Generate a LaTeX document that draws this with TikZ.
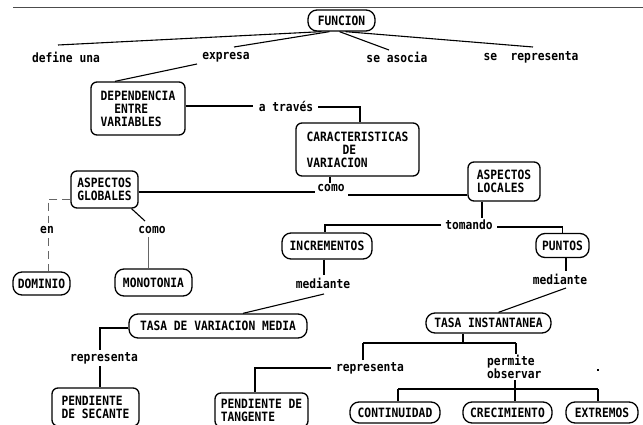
\documentclass[tikz,border=0pt]{standalone}
\usepackage{fontspec}
\newfontfamily\mapfont{DejaVu Sans Mono}[FakeStretch=0.88]
\tikzset{
  lbl/.style={font=\mapfont\bfseries\fontsize{12.8}{13}\selectfont, inner sep=0pt, text=black},
  pill/.style={lbl, draw, line width=1.3pt, rounded corners=9pt},
  rbox/.style={lbl, draw, line width=1.3pt, rounded corners=6pt, align=left},
  conn/.style={line width=1.1pt, black},
  thin conn/.style={line width=0.8pt, gray!80!black},
  dash conn/.style={line width=0.9pt, gray!80!black, dash pattern=on 8pt off 5pt},
}
\begin{document}
\begin{tikzpicture}[x=1pt,y=-1pt]
\useasboundingbox (0,0) rectangle (643,425);
\fill[white] (0,0) rectangle (643,425);
% top rule
\draw[gray!60!black, line width=0.8pt] (13,7) -- (643,7);

% concept nodes
\node[pill, minimum width=67pt, minimum height=21pt] (F) at (341.5,20.5) {FUNCION};
\node[rbox, minimum width=94pt, minimum height=53pt] (DEP) at (138,108.5) {DEPENDENCIA\\\phantom{XX}ENTRE\\VARIABLES};
\node[rbox, minimum width=123pt, minimum height=53pt] (CAR) at (357.5,149.5) {CARACTERISTICAS\\\hspace*{36pt}DE\\VARIACION};
\node[rbox, minimum width=67pt, minimum height=37pt] (AG) at (104.5,189.5) {ASPECTOS\\GLOBALES};
\node[rbox, minimum width=72pt, minimum height=39pt] (AL) at (504,181.5) {ASPECTOS\\LOCALES};
\node[pill, minimum width=57pt, minimum height=23pt] (DOM) at (41.5,283.5) {DOMINIO};
\node[pill, minimum width=77pt, minimum height=27pt] (MON) at (153.5,282.5) {MONOTONIA};
\node[pill, minimum width=90pt, minimum height=26pt] (INC) at (327,246) {INCREMENTOS};
\node[pill, minimum width=53pt, minimum height=24pt] (PUN) at (562.5,245.5) {PUNTOS};
\node[pill, minimum width=178pt, minimum height=24pt] (TVM) at (218,326) {TASA DE VARIACION MEDIA};
\node[pill, minimum width=125pt, minimum height=20pt] (TI) at (488.5,323) {TASA INSTANTANEA};
\node[rbox, minimum width=87pt, minimum height=38pt] (PDS) at (95.5,407) {PENDIENTE\\DE SECANTE};
\node[rbox, minimum width=93pt, minimum height=34pt] (PDT) at (261.5,410) {PENDIENTE DE\\TANGENTE};
\node[pill, minimum width=90pt, minimum height=21pt] (CON) at (395,412.5) {CONTINUIDAD};
\node[pill, minimum width=89pt, minimum height=21pt] (CRE) at (507.5,412.5) {CRECIMIENTO};
\node[pill, minimum width=72pt, minimum height=21pt] (EXT) at (602,412.5) {EXTREMOS};

% linking words
\node[lbl] (l1) at (66,57) {define una};
\node[lbl] (l2) at (226,57) {expresa};
\node[lbl] (l3) at (397,57) {se asocia};
\node[lbl] (l4) at (531,57) {se\ \ representa};
\node[lbl] (l5) at (286,106) {a través};
\node[lbl] (l6) at (331,188) {como};
\node[lbl] (l7) at (47,230) {en};
\node[lbl] (l8) at (152,230) {como};
\node[lbl] (l9) at (469,225) {tomando};
\node[lbl] (l10) at (323,283) {mediante};
\node[lbl] (l11) at (560,279) {mediante};
\node[lbl] (l12) at (104,358) {representa};
\node[lbl] (l13) at (370,368) {representa};
\node[lbl, align=left, anchor=west] (l14) at (487,367) {permite\\observar};

% connector end points next to linking words
\coordinate (p1) at (58,45);
\coordinate (p2) at (234,47);
\coordinate (p3) at (197,64);
\coordinate (p4) at (389,50);
\coordinate (p5) at (533,47);
\coordinate (p6) at (253,106);
\coordinate (p7) at (318,107);
\coordinate (p8) at (330,183);
\coordinate (p9) at (315,192);
\coordinate (p10) at (348,195);
\coordinate (p11) at (48,199);
\coordinate (p12) at (48,223);
\coordinate (p13) at (48,238);
\coordinate (p14) at (145,221);
\coordinate (p15) at (148,237);
\coordinate (p16) at (482,218);
\coordinate (p17) at (441,225);
\coordinate (p18) at (497,227);
\coordinate (p19) at (566,271);
\coordinate (p20) at (566,288);
\coordinate (p21) at (324,275);
\coordinate (p22) at (324,294);
\coordinate (p23) at (100,350);
\coordinate (p24) at (100,366);
\coordinate (p25) at (363,343);
\coordinate (p26) at (516,343);
\coordinate (p27) at (463,343);
\coordinate (p28) at (363,360);
\coordinate (p29) at (516,354);
\coordinate (p30) at (331,368);
\coordinate (p31) at (515,380);
\coordinate (p32) at (398,389);
\coordinate (p33) at (598,389);

% connectors
\draw[conn] ([xshift=-20pt]F.south) -- (p1);
\draw[conn] ([xshift=-12pt]F.south) -- (p2);
\draw[conn] (p3) -- ([xshift=-23pt]DEP.north);
\draw[conn] ([xshift=-2pt]F.south) -- (p4);
\draw[conn] ([xshift=4pt]F.south) -- (p5);
\draw[conn] ([yshift=2.5pt]DEP.east) -- (p6);
\draw[conn] (p7) -| ([xshift=2.5pt]CAR.north);
\draw[conn] ([xshift=-27.5pt]CAR.south) -- (p8);
\draw[conn] ([yshift=-2.5pt]AG.east) -- (p9);
\draw[conn] (p10) -- ([yshift=-13.5pt]AL.west);
\draw[dash conn] ([yshift=-9.5pt]AG.west) -- (p11) -- (p12);
\draw[dash conn] (p13) -- ([xshift=6.5pt]DOM.north);
\draw[conn] ([xshift=27pt]AG.south) -- (p14);
\draw[thin conn] (p15) -- ([xshift=-5.5pt]MON.north);
\draw[conn] ([xshift=-22pt]AL.south) -- (p16);
\draw[conn] (p17) -| ([xshift=-2pt]INC.north);
\draw[conn] (p18) -| (PUN.north);
\draw[conn] ([xshift=3.5pt]PUN.south) -- (p19);
\draw[conn] (p20) -- ([xshift=10pt]TI.north);
\draw[conn] ([xshift=-3pt]INC.south) -- (p21);
\draw[conn] (p22) -- ([xshift=25pt]TVM.north);
\draw[conn] ([yshift=-2pt]TVM.west) -| (p23);
\draw[conn] (p24) -- ([xshift=4.5pt]PDS.north);
\draw[conn] ([xshift=-25.5pt]TI.south) -- (p27);
\draw[conn] (p25) -- (p26);
\draw[conn] (p25) -- (p28);
\draw[conn] (p26) -- (p29);
\draw[conn] (p30) -| ([xshift=-6.5pt]PDT.north);
\draw[conn] (p31) -- ([xshift=7.5pt]CRE.north);
\draw[conn] (p32) -- (p33);
\draw[conn] (p32) -- ([xshift=3pt]CON.north);
\draw[conn] (p33) -- ([xshift=-4pt]EXT.north);

% stray pixel
\fill[black] (597,369) rectangle (599,371);
\end{tikzpicture}
\end{document}
